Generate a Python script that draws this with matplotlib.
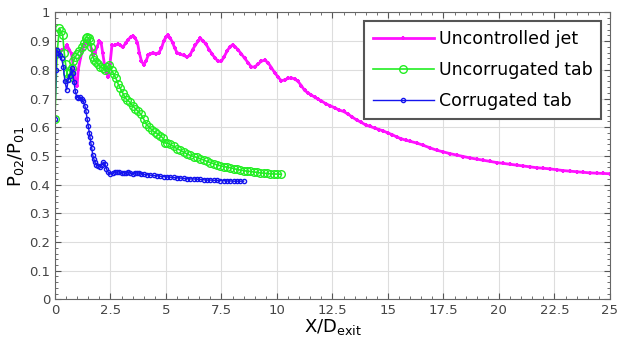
import matplotlib
matplotlib.use('Agg')
import matplotlib.pyplot as plt
from matplotlib.ticker import MultipleLocator, FormatStrFormatter

# Uncontrolled jet
jet_x = [0.15, 0.3, 0.45, 0.55, 0.65, 0.75, 0.85, 0.92, 1.0, 1.05, 1.15, 1.25, 1.35, 1.45, 1.55, 1.65,
         1.72, 1.8, 1.9, 2.0, 2.08, 2.15, 2.25, 2.33, 2.4, 2.48, 2.57, 2.7, 2.84, 2.95, 3.06, 3.2, 3.3,
         3.42, 3.52, 3.62, 3.72, 3.8, 3.9, 4.0, 4.1, 4.2, 4.3, 4.42, 4.55, 4.68, 4.8, 4.9, 5.0, 5.1,
         5.2, 5.3, 5.4, 5.5, 5.65, 5.8, 5.95, 6.08, 6.2, 6.32, 6.45, 6.55, 6.68, 6.8, 6.95, 7.08, 7.22,
         7.36, 7.5, 7.62, 7.75, 7.88, 8.0, 8.12, 8.25, 8.4, 8.55, 8.7, 8.85, 9.0, 9.15, 9.3, 9.45, 9.6,
         9.75, 9.9, 10.05, 10.2, 10.35, 10.5, 10.65, 10.8, 10.95, 11.1, 11.25, 11.4, 11.55, 11.7, 11.85,
         12.0, 12.2, 12.4, 12.6, 12.8, 13.0, 13.2, 13.4, 13.6, 13.8, 14.0, 14.2, 14.4, 14.6, 14.8, 15.0,
         15.2, 15.4, 15.6, 15.8, 16.0, 16.3, 16.6, 16.9, 17.2, 17.5, 17.8, 18.1, 18.4, 18.7, 19.0, 19.3,
         19.6, 19.9, 20.2, 20.5, 20.8, 21.1, 21.4, 21.7, 22.0, 22.3, 22.6, 22.9, 23.2, 23.5, 23.8, 24.1,
         24.4, 24.7, 25.0]
jet_y = [0.86, 0.87, 0.875, 0.885, 0.87, 0.855, 0.8, 0.76, 0.745, 0.8, 0.84, 0.87, 0.9, 0.895, 0.9, 0.87,
         0.85, 0.86, 0.88, 0.9, 0.895, 0.86, 0.81, 0.79, 0.775, 0.82, 0.885, 0.885, 0.89, 0.885, 0.878, 0.895, 0.905,
         0.915, 0.918, 0.91, 0.895, 0.86, 0.83, 0.818, 0.83, 0.85, 0.855, 0.86, 0.855, 0.86, 0.875, 0.9, 0.915, 0.92,
         0.91, 0.895, 0.875, 0.86, 0.855, 0.85, 0.845, 0.85, 0.87, 0.885, 0.9, 0.91, 0.9, 0.89, 0.87, 0.855, 0.84,
         0.83, 0.83, 0.845, 0.865, 0.88, 0.887, 0.88, 0.87, 0.855, 0.84, 0.825, 0.81, 0.81, 0.82, 0.83, 0.834, 0.825,
         0.808, 0.79, 0.775, 0.762, 0.765, 0.77, 0.772, 0.768, 0.76, 0.745, 0.728, 0.72, 0.712, 0.705, 0.698,
         0.692, 0.682, 0.675, 0.668, 0.66, 0.655, 0.646, 0.635, 0.625, 0.617, 0.608, 0.603, 0.597, 0.592, 0.587, 0.58,
         0.574, 0.566, 0.56, 0.555, 0.551, 0.545, 0.537, 0.528, 0.52, 0.514, 0.508, 0.503, 0.498, 0.493, 0.489, 0.485,
         0.481, 0.477, 0.474, 0.471, 0.468, 0.465, 0.462, 0.459, 0.457, 0.455, 0.452, 0.449, 0.447, 0.445, 0.443, 0.441,
         0.44, 0.439, 0.438]

# Uncorrugated tab
unc_x = [0, 0.1, 0.2, 0.27, 0.35, 0.42, 0.48, 0.55, 0.6, 0.68, 0.75, 0.83, 0.92, 1.0, 1.1, 1.2, 1.3, 1.38,
         1.45, 1.52, 1.58, 1.64, 1.7, 1.78, 1.87, 1.95, 2.05, 2.15, 2.25, 2.35, 2.45, 2.55, 2.65, 2.75, 2.85,
         2.95, 3.05, 3.15, 3.25, 3.38, 3.5, 3.62, 3.75, 3.88, 4.0, 4.12, 4.25, 4.38, 4.5, 4.62, 4.75, 4.87,
         4.95, 5.05, 5.2, 5.35, 5.5, 5.65, 5.8, 5.95, 6.1, 6.25, 6.4, 6.55, 6.7, 6.85, 7.0, 7.15, 7.3, 7.45,
         7.6, 7.75, 7.9, 8.05, 8.2, 8.35, 8.5, 8.65, 8.8, 8.95, 9.1, 9.25, 9.4, 9.55, 9.7, 9.85, 10.0, 10.2]
unc_y = [0.63, 0.86, 0.945, 0.935, 0.92, 0.86, 0.82, 0.79, 0.77, 0.79, 0.805, 0.83, 0.845, 0.855, 0.865, 0.88, 0.895, 0.912,
         0.915, 0.91, 0.9, 0.878, 0.845, 0.835, 0.828, 0.82, 0.81, 0.805, 0.8, 0.81, 0.818, 0.8, 0.785, 0.77, 0.75,
         0.735, 0.72, 0.705, 0.695, 0.687, 0.675, 0.665, 0.655, 0.645, 0.628, 0.61, 0.6, 0.59, 0.582, 0.578, 0.57, 0.562,
         0.545, 0.545, 0.54, 0.533, 0.525, 0.52, 0.513, 0.507, 0.502, 0.498, 0.495, 0.49, 0.486, 0.481, 0.477, 0.473, 0.469, 0.466,
         0.463, 0.461, 0.459, 0.456, 0.453, 0.451, 0.449, 0.447, 0.446, 0.444, 0.443, 0.441, 0.44, 0.439, 0.438, 0.437, 0.437, 0.436]

# Corrugated tab
cor_x = [0, 0.05, 0.08, 0.15, 0.23, 0.3, 0.38, 0.45, 0.53, 0.6, 0.68, 0.75, 0.8, 0.86, 0.92, 0.98, 1.05, 1.13,
         1.2, 1.28, 1.35, 1.4, 1.45, 1.5, 1.55, 1.58, 1.62, 1.66, 1.7, 1.75, 1.8, 1.87, 1.95, 2.03, 2.1, 2.18,
         2.25, 2.32, 2.4, 2.5, 2.6, 2.7, 2.8, 2.9, 3.0, 3.1, 3.2, 3.3, 3.4, 3.5, 3.6, 3.7, 3.8, 3.9, 4.0,
         4.15, 4.3, 4.45, 4.6, 4.75, 4.9, 5.05, 5.2, 5.35, 5.5, 5.65, 5.8, 5.95, 6.1, 6.25, 6.4, 6.55, 6.7,
         6.85, 7.0, 7.15, 7.3, 7.45, 7.6, 7.75, 7.9, 8.05, 8.2, 8.35, 8.5]
cor_y = [0.63, 0.8, 0.87, 0.86, 0.85, 0.84, 0.81, 0.76, 0.73, 0.765, 0.78, 0.805, 0.79, 0.757, 0.725, 0.705, 0.703, 0.705,
         0.697, 0.69, 0.675, 0.655, 0.63, 0.605, 0.58, 0.565, 0.545, 0.527, 0.505, 0.49, 0.478, 0.47, 0.465, 0.462, 0.468, 0.478,
         0.472, 0.455, 0.443, 0.438, 0.44, 0.444, 0.443, 0.445, 0.44, 0.442, 0.439, 0.444, 0.44, 0.438, 0.439, 0.441, 0.44, 0.437, 0.436,
         0.435, 0.433, 0.432, 0.431, 0.429, 0.428, 0.427, 0.426, 0.425, 0.424, 0.423, 0.422, 0.421, 0.42, 0.42, 0.419, 0.418, 0.417,
         0.416, 0.416, 0.415, 0.415, 0.414, 0.414, 0.413, 0.413, 0.412, 0.412, 0.412, 0.412]

fig = plt.figure(figsize=(6.17, 3.45), dpi=100)
ax = fig.add_axes([0.089, 0.132, 0.8995, 0.832])

ax.plot(jet_x, jet_y, color='#ff11ff', lw=2.0, marker='+', ms=3.5, mew=1.5, label='Uncontrolled jet')
ax.plot(unc_x, unc_y, color='#22ee22', lw=1.2, marker='o', ms=5.5, mfc='none', mew=1.0, label='Uncorrugated tab')
ax.plot(cor_x, cor_y, color='#1414ee', lw=1.0, marker='o', ms=3, mfc='none', mew=1.0, label='Corrugated tab')

ax.set_xlim(0, 25)
ax.set_ylim(0, 1)
ax.xaxis.set_major_locator(MultipleLocator(2.5))
ax.xaxis.set_minor_locator(MultipleLocator(0.5))
ax.yaxis.set_major_locator(MultipleLocator(0.1))
ax.yaxis.set_minor_locator(MultipleLocator(0.02))
ax.xaxis.set_major_formatter(FormatStrFormatter('%g'))
ax.yaxis.set_major_formatter(FormatStrFormatter('%g'))
ax.tick_params(which='both', direction='in', top=True, right=True, color='#555555',
               labelsize=9.5, labelcolor='#444444')
ax.tick_params(which='major', length=4)
ax.tick_params(which='minor', length=2)
ax.grid(True, which='major', color='#dddddd', lw=0.8)
ax.set_axisbelow(True)
for s in ax.spines.values():
    s.set_color('#666666')

ax.set_xlabel(r'$\mathregular{X/D_{exit}}$', fontsize=13, labelpad=0)
ax.set_ylabel(r'$\mathregular{P_{02}/P_{01}}$', fontsize=13, labelpad=2)

leg = ax.legend(loc='upper right', fontsize=12.5, handlelength=3.5, labelspacing=0.75,
                fancybox=False, framealpha=1, borderaxespad=0.5, handletextpad=0.3,
                borderpad=0.5)
leg.get_frame().set_edgecolor('#555555')
leg.get_frame().set_linewidth(1.5)

plt.savefig('out.png', dpi=100)
